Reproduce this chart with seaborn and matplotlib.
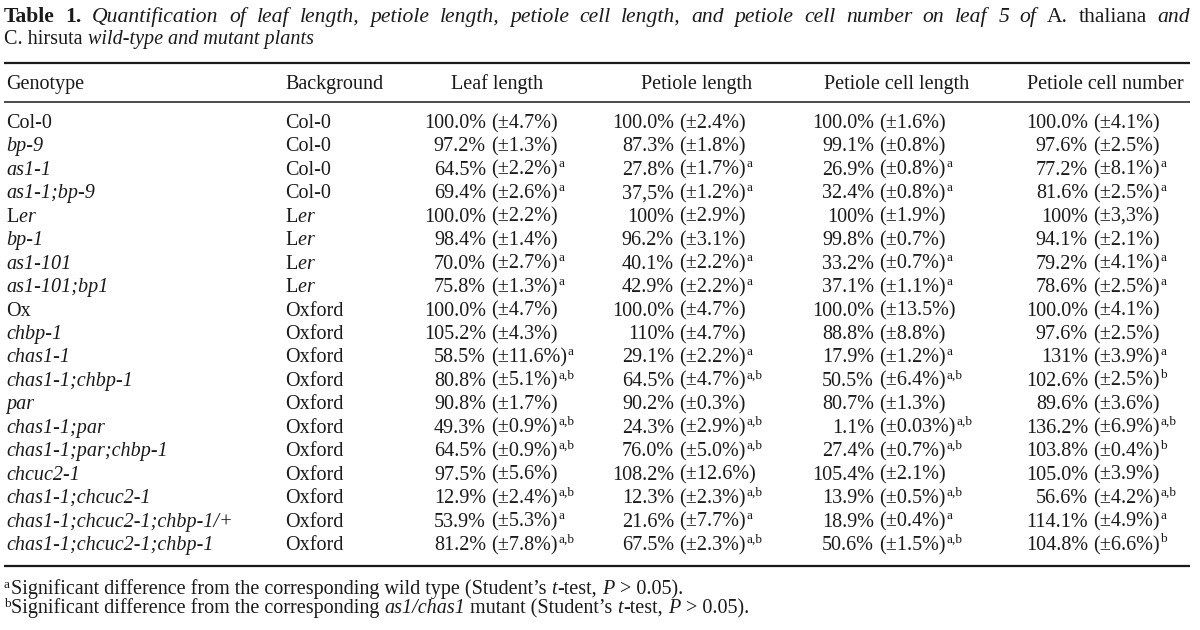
import numpy as np
import pandas as pd
import matplotlib
matplotlib.use('Agg')
import matplotlib.pyplot as plt
import seaborn as sns

# table rows
genotypes = ['Col-0', 'bp-9', 'as1-1', 'as1-1;bp-9', 'Ler', 'bp-1', 'as1-101', 'as1-101;bp1',
             'Ox', 'chbp-1', 'chas1-1', 'chas1-1;chbp-1', 'par', 'chas1-1;par', 'chas1-1;par;chbp-1',
             'chcuc2-1', 'chas1-1;chcuc2-1', 'chas1-1;chcuc2-1;chbp-1/+', 'chas1-1;chcuc2-1;chbp-1']
backgrounds = ['Col-0', 'Col-0', 'Col-0', 'Col-0', 'Ler', 'Ler', 'Ler', 'Ler',
               'Oxford', 'Oxford', 'Oxford', 'Oxford', 'Oxford', 'Oxford', 'Oxford',
               'Oxford', 'Oxford', 'Oxford', 'Oxford']
wild_types = ['Col-0', 'Ler', 'Ox']

leaf_length = ['100.0%', '97.2%', '64.5%', '69.4%', '100.0%', '98.4%', '70.0%', '75.8%',
               '100.0%', '105.2%', '58.5%', '80.8%', '90.8%', '49.3%', '64.5%',
               '97.5%', '12.9%', '53.9%', '81.2%']
leaf_length_err = ['±4.7%', '±1.3%', '±2.2%', '±2.6%', '±2.2%', '±1.4%', '±2.7%', '±1.3%',
                   '±4.7%', '±4.3%', '±11.6%', '±5.1%', '±1.7%', '±0.9%', '±0.9%',
                   '±5.6%', '±2.4%', '±5.3%', '±7.8%']
leaf_length_sig = ['', '', 'a', 'a', '', '', 'a', 'a',
                   '', '', 'a', 'a,b', '', 'a,b', 'a,b',
                   '', 'a,b', 'a', 'a,b']

petiole_length = ['100.0%', '87.3%', '27.8%', '37,5%', '100%', '96.2%', '40.1%', '42.9%',
                  '100.0%', '110%', '29.1%', '64.5%', '90.2%', '24.3%', '76.0%',
                  '108.2%', '12.3%', '21.6%', '67.5%']
petiole_length_err = ['±2.4%', '±1.8%', '±1.7%', '±1.2%', '±2.9%', '±3.1%', '±2.2%', '±2.2%',
                      '±4.7%', '±4.7%', '±2.2%', '±4.7%', '±0.3%', '±2.9%', '±5.0%',
                      '±12.6%', '±2.3%', '±7.7%', '±2.3%']
petiole_length_sig = ['', '', 'a', 'a', '', '', 'a', 'a',
                      '', '', 'a', 'a,b', '', 'a,b', 'a,b',
                      '', 'a,b', 'a', 'a,b']

cell_length = ['100.0%', '99.1%', '26.9%', '32.4%', '100%', '99.8%', '33.2%', '37.1%',
               '100.0%', '88.8%', '17.9%', '50.5%', '80.7%', '1.1%', '27.4%',
               '105.4%', '13.9%', '18.9%', '50.6%']
cell_length_err = ['±1.6%', '±0.8%', '±0.8%', '±0.8%', '±1.9%', '±0.7%', '±0.7%', '±1.1%',
                   '±13.5%', '±8.8%', '±1.2%', '±6.4%', '±1.3%', '±0.03%', '±0.7%',
                   '±2.1%', '±0.5%', '±0.4%', '±1.5%']
cell_length_sig = ['', '', 'a', 'a', '', '', 'a', 'a',
                   '', '', 'a', 'a,b', '', 'a,b', 'a,b',
                   '', 'a,b', 'a', 'a,b']

cell_number = ['100.0%', '97.6%', '77.2%', '81.6%', '100%', '94.1%', '79.2%', '78.6%',
               '100.0%', '97.6%', '131%', '102.6%', '89.6%', '136.2%', '103.8%',
               '105.0%', '56.6%', '114.1%', '104.8%']
cell_number_err = ['±4.1%', '±2.5%', '±8.1%', '±2.5%', '±3,3%', '±2.1%', '±4.1%', '±2.5%',
                   '±4.1%', '±2.5%', '±3.9%', '±2.5%', '±3.6%', '±6.9%', '±0.4%',
                   '±3.9%', '±4.2%', '±4.9%', '±6.6%']
cell_number_sig = ['', '', 'a', 'a', '', '', 'a', 'a',
                   '', '', 'a', 'b', '', 'a,b', 'b',
                   '', 'a,b', 'a', 'b']

headers = ['Genotype', 'Background', 'Leaf length', 'Petiole length',
           'Petiole cell length', 'Petiole cell number']

# caption pieces: (text, style, weight[, space before])
title_1 = [('Table 1.', 'normal', 'bold'),
           ('Quantification of leaf length, petiole length, petiole cell length, '
            'and petiole cell number on leaf 5 of', 'italic', 'normal'),
           ('A. thaliana', 'normal', 'normal'),
           ('and', 'italic', 'normal')]
title_2 = [('C. hirsuta', 'normal', 'normal', True),
           ('wild-type and mutant plants', 'italic', 'normal', True)]
foot_a = [('Significant difference from the corresponding wild type (Student’s', 'normal', 'normal', False),
          ('t', 'italic', 'normal', True),
          ('-test,', 'normal', 'normal', False),
          ('P', 'italic', 'normal', True),
          ('> 0.05).', 'normal', 'normal', True)]
foot_b = [('Significant difference from the corresponding', 'normal', 'normal', False),
          ('as1/chas1', 'italic', 'normal', True),
          ('mutant (Student’s', 'normal', 'normal', True),
          ('t', 'italic', 'normal', True),
          ('-test,', 'normal', 'normal', False),
          ('P', 'italic', 'normal', True),
          ('> 0.05).', 'normal', 'normal', True)]

df = pd.DataFrame({'genotype': genotypes, 'background': backgrounds})
value_cols = [(leaf_length, leaf_length_err, leaf_length_sig),
              (petiole_length, petiole_length_err, petiole_length_sig),
              (cell_length, cell_length_err, cell_length_sig),
              (cell_number, cell_number_err, cell_number_sig)]

sns.set_theme(style='white')
plt.rcParams['font.family'] = ['Liberation Serif', 'DejaVu Serif']
plt.rcParams['mathtext.fontset'] = 'custom'
plt.rcParams['mathtext.rm'] = 'Liberation Serif'
plt.rcParams['mathtext.it'] = 'Liberation Serif:italic'

ink = '#1a1a1a'
fs = 14.5
fig = plt.figure(figsize=(12, 6.3), dpi=100)
ax = fig.add_axes([0, 0, 1, 1])
ax.set_xlim(0, 1200)
ax.set_ylim(630, 0)
ax.axis('off')
renderer = fig.canvas.get_renderer()


def name(s):
    # Ler = Landsberg erecta, the "er" is set in italic
    if s == 'Ler':
        return r'L$\mathit{er}$'
    return s


def chain(x, y, pieces, size):
    prev = None
    for txt, style, weight, space in pieces:
        kw = dict(fontsize=size, fontstyle=style, fontweight=weight, color=ink,
                  ha='left', va='baseline')
        if prev is None:
            prev = ax.text(x, y, txt, **kw)
        else:
            prev = ax.annotate(txt, xy=(1, y), xycoords=(prev, 'data'),
                               xytext=(0.25 * size if space else 0.3, 0),
                               textcoords='offset points', **kw)


def justify(x0, x1, y, pieces, size):
    # first caption line is set justified: spread the words over the full width
    words = []
    for txt, style, weight in pieces:
        words += [(w, style, weight) for w in txt.split(' ')]
    arts = [ax.text(0, y, w, fontsize=size, fontstyle=st, fontweight=wt, color=ink,
                    ha='left', va='baseline') for w, st, wt in words]
    widths = [a.get_window_extent(renderer).width for a in arts]
    gap = (x1 - x0 - sum(widths)) / (len(arts) - 1)
    x = x0
    for a, w in zip(arts, widths):
        a.set_x(x)
        x += w + gap


# caption
justify(4, 1190, 22, title_1, 15.6)
chain(4, 44, title_2, fs)

# rules
ax.hlines([63, 566], 4, 1190, color=ink, lw=1.6)
ax.hlines(102, 4, 1190, color=ink, lw=1.1)

# headers
ax.text(6, 89, headers[0], fontsize=fs, color=ink, va='baseline')
ax.text(285, 89, headers[1], fontsize=fs, color=ink, va='baseline')
for h, cx in zip(headers[2:], [497, 697, 897, 1105]):
    ax.text(cx, 89, h, fontsize=fs, color=ink, ha='center', va='baseline')

# body
anchors = [491, 679, 879, 1093]
y0, pitch = 128, 23.45
for i, row in df.iterrows():
    y = y0 + i * pitch
    g = row['genotype']
    ax.text(6, y, name(g), fontsize=fs, color=ink, va='baseline',
            fontstyle='normal' if g in wild_types else 'italic')
    ax.text(285, y, name(row['background']), fontsize=fs, color=ink, va='baseline')
    for (vals, errs, sigs), xa in zip(value_cols, anchors):
        ax.text(xa - 5, y, vals[i], fontsize=fs, color=ink, ha='right', va='baseline')
        et = ax.text(xa, y, '(' + errs[i] + ')', fontsize=fs, color=ink, ha='left', va='baseline')
        if sigs[i]:
            ax.annotate(sigs[i], xy=(1, y), xycoords=(et, 'data'), xytext=(0.5, 5.5),
                        textcoords='offset points', fontsize=9.5, color=ink,
                        ha='left', va='baseline')

# footnotes
for mark, pieces, y in [('a', foot_a, 594), ('b', foot_b, 613)]:
    ax.text(4, y - 6, mark, fontsize=9.5, color=ink, ha='left', va='baseline')
    chain(11, y, pieces, 14.5)

fig.savefig('out.png', dpi=100, facecolor='white')
